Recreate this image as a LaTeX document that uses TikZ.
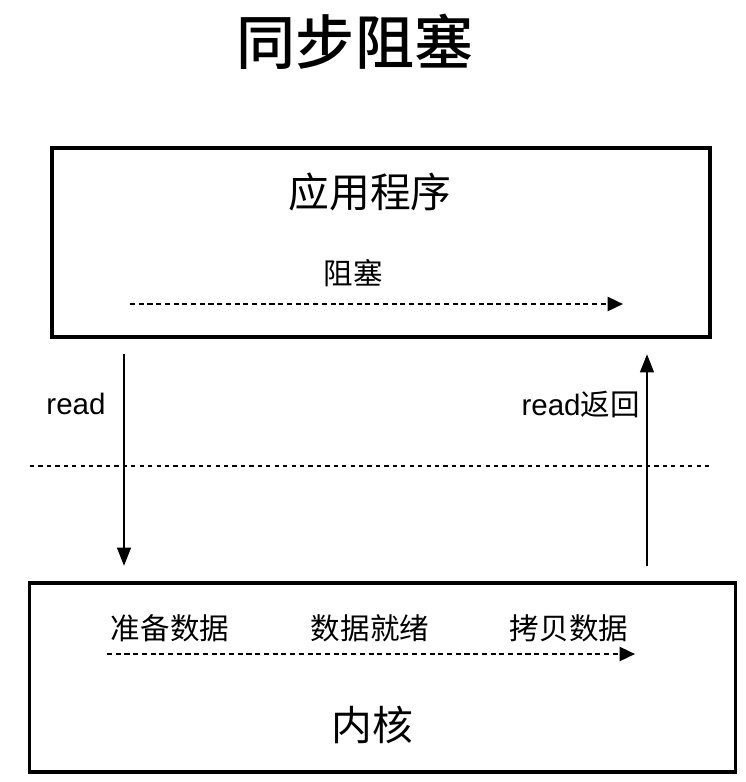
\documentclass[tikz,border=0pt]{standalone}
\usepackage{fontspec}
\setmainfont{Liberation Sans}
\newfontfamily\cjk{Noto Sans CJK SC}
\newfontfamily\cjkmed{Noto Sans CJK SC Medium}
\usetikzlibrary{arrows.meta, positioning}

\begin{document}
\begin{tikzpicture}[x=0.025cm, y=-0.025cm,
    layer/.style={draw, line width=2.4pt, minimum width=16.45cm, minimum height=4.72cm},
    flow/.style={line width=1.9pt, dash pattern=on 3.6pt off 2.6pt, -{Triangle[length=11pt, width=10pt]}},
    call/.style={line width=2.1pt, -{Triangle[length=13pt, width=9.5pt]}},
    lbl/.style={font=\cjk\fontsize{21}{25}\selectfont, inner sep=0pt}]
  \useasboundingbox (0,0) rectangle (745,782);

  % title
  \node[font=\cjkmed\fontsize{42}{48}\selectfont] (title) at (355,42) {同步阻塞};

  % user space
  \node[layer] (app) at (381,242.5) {};
  \node[font=\cjk\fontsize{29}{34}\selectfont] (appname) at (370,192) {应用程序};
  \node[lbl] (block) at (353,273) {阻塞};
  \coordinate (bstart) at (130,304);
  \coordinate (bend) at (623,304);
  \draw[flow] (bstart) -- (bend);

  % boundary
  \coordinate (lineL) at (30,466);
  \coordinate (lineR) at (712,466);
  \draw[line width=1.6pt, dash pattern=on 3pt off 3pt] (lineL) -- (lineR);

  % system calls
  \coordinate (readtop) at (124,354);
  \coordinate (readbot) at (124,566);
  \draw[call] (readtop) -- (readbot);
  \node[font=\fontsize{21}{25}\selectfont, inner sep=0pt] (readtxt) at (76,404) {read};

  \coordinate (rettop) at (647,354);
  \coordinate (retbot) at (647,566);
  \draw[call] (retbot) -- (rettop);
  \node[font=\fontsize{21}{25}\selectfont, inner sep=0pt, anchor=east] (rettxt) at (640,404) {read{\cjk 返回}};

  % kernel
  \node[layer, minimum width=17.63cm] (kernel) at (382.5,677.5) {};
  \node[lbl] (prep) at (170,628) {准备数据};
  \node[lbl] (ready) at (370,628) {数据就绪};
  \node[lbl] (copy) at (569,628) {拷贝数据};
  \coordinate (kstart) at (107,654);
  \coordinate (kend) at (635,654);
  \draw[flow] (kstart) -- (kend);
  \node[font=\cjk\fontsize{29}{34}\selectfont] (kname) at (372,725) {内核};
\end{tikzpicture}
\end{document}
